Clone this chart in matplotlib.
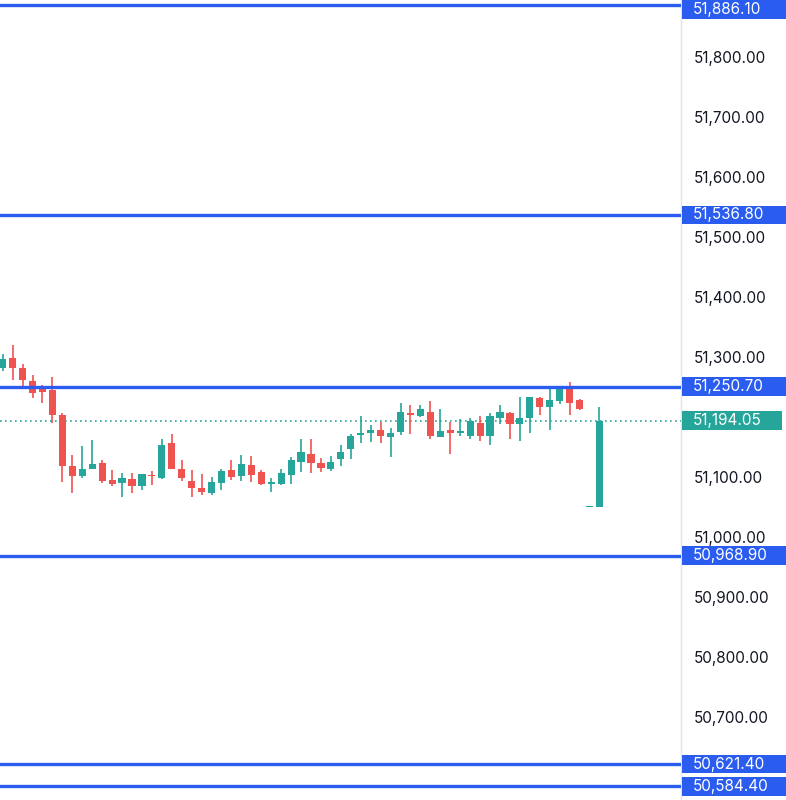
import matplotlib
matplotlib.use("Agg")
import matplotlib.pyplot as plt
import matplotlib.transforms as mtransforms
from matplotlib.patches import Rectangle

plt.rcParams['font.family'] = ['Inter', 'DejaVu Sans']

# candle data (oldest first)
opens = [51282, 51298, 51281, 51260, 51246, 51245, 51203, 51118, 51102, 51114,
         51123, 51095, 51090, 51096, 51085, 51103, 51098, 51157, 51114, 51094,
         51082, 51074, 51090, 51112, 51102, 51120, 51109, 51089, 51088, 51103,
         51125, 51139, 51124, 51114, 51130, 51147, 51170, 51173, 51178, 51167,
         51175, 51206, 51202, 51209, 51167, 51178, 51173, 51168, 51190, 51168,
         51199, 51206, 51188, 51199, 51231, 51216, 51227, 51248, 51228, 51050.5,
         51050.5]
highs = [51305, 51320, 51288, 51270, 51254, 51266, 51206, 51137, 51152, 51162,
         51128, 51112, 51107, 51106, 51105, 51110, 51163, 51172, 51129, 51112,
         51105, 51100, 51114, 51128, 51137, 51135, 51112, 51098, 51114, 51134,
         51163, 51164, 51132, 51135, 51154, 51171, 51202, 51187, 51192, 51181,
         51224, 51220, 51220, 51227, 51213, 51192, 51196, 51199, 51202, 51207,
         51220, 51209, 51234, 51233, 51233, 51248, 51248, 51259, 51230, 51050.5,
         51217]
lows = [51276, 51262, 51252, 51231, 51223, 51190, 51092, 51074, 51099, 51113,
        51090, 51085, 51066, 51074, 51079, 51087, 51096, 51113, 51094, 51067,
        51070, 51070, 51079, 51095, 51094, 51092, 51087, 51075, 51087, 51088,
        51108, 51106, 51109, 51110, 51119, 51130, 51156, 51158, 51156, 51134,
        51170, 51171, 51200, 51164, 51166, 51139, 51168, 51164, 51160, 51153,
        51189, 51163, 51160, 51174, 51203, 51179, 51221, 51203, 51211, 51050.5,
        51050]
closes = [51296, 51282, 51262, 51240, 51242, 51203, 51118, 51102, 51114, 51121,
          51094, 51088, 51098, 51085, 51105, 51101, 51153, 51114, 51099, 51081,
          51075, 51091, 51110, 51100, 51122, 51103, 51088, 51090, 51106, 51129,
          51141, 51123, 51115, 51125, 51141, 51169, 51173, 51178, 51169, 51174,
          51208, 51203, 51213, 51169, 51177, 51173, 51177, 51194, 51168, 51202,
          51209, 51188, 51199, 51233, 51216, 51229, 51246, 51224, 51213, 51050.5,
          51194.05]

levels = [51886.10, 51536.80, 51250.70, 50968.90, 50621.40, 50584.40]
last_price = 51194.05
# 50,600 and 51,200 sit under the price tags, so they are not shown
yticks = [50700, 50800, 50900, 51000, 51100, 51300, 51400, 51500, 51600,
          51700, 51800]

UP = '#26a69a'
DOWN = '#ef5350'
BLUE = '#2a5cf0'
TXT = '#131722'

fig = plt.figure(figsize=(7.86, 8.0), dpi=100)
ax = fig.add_axes([0, 0, 681 / 786, 1])

ylo, yhi = 50561.7, 51895.0
ax.set_xlim(-0.27, 68.2)
ax.set_ylim(ylo, yhi)

# candles
for i in range(len(opens)):
    o, h, l, c = opens[i], highs[i], lows[i], closes[i]
    col = UP if c >= o else DOWN
    ax.vlines(i, l, h, color=col, lw=1.2, zorder=2)
    bot = min(o, c)
    hgt = max(abs(c - o), 2.0)
    ax.bar(i, hgt, bottom=bot, width=0.72, color=col, zorder=3, linewidth=0)

# support / resistance lines
for lv in levels:
    ax.axhline(lv, color=BLUE, lw=2.4, zorder=4)

# last price dotted line
ax.axhline(last_price, color=UP, lw=1.2, linestyle=(0, (1, 2)), zorder=1)

# right price axis
ax.yaxis.tick_right()
ax.set_yticks(yticks)
ax.set_yticklabels(['{:,.2f}'.format(v) for v in yticks])
ax.tick_params(axis='y', length=0, pad=9, labelsize=11, labelcolor=TXT)
ax.set_xticks([])
for side in ['top', 'left', 'bottom']:
    ax.spines[side].set_visible(False)
ax.spines['right'].set_color('#e0e3eb')
ax.spines['right'].set_linewidth(1.0)

# price tags on the axis
trans = mtransforms.blended_transform_factory(fig.transFigure, ax.transData)
box_h = 31.0


def tag(value, color, right=1.0):
    top = min(value + box_h / 2, yhi)
    bottom = top - box_h
    fig.add_artist(Rectangle((682 / 786, bottom), right - 682 / 786, box_h,
                             transform=trans, color=color, lw=0))
    fig.text(693 / 786, (top + bottom) / 2, '{:,.2f}'.format(value),
             transform=trans, color='white', fontsize=11,
             ha='left', va='center')


for lv in levels:
    tag(lv, BLUE)
tag(last_price, UP, right=782 / 786)

fig.savefig('out.png', dpi=100, facecolor='white')
